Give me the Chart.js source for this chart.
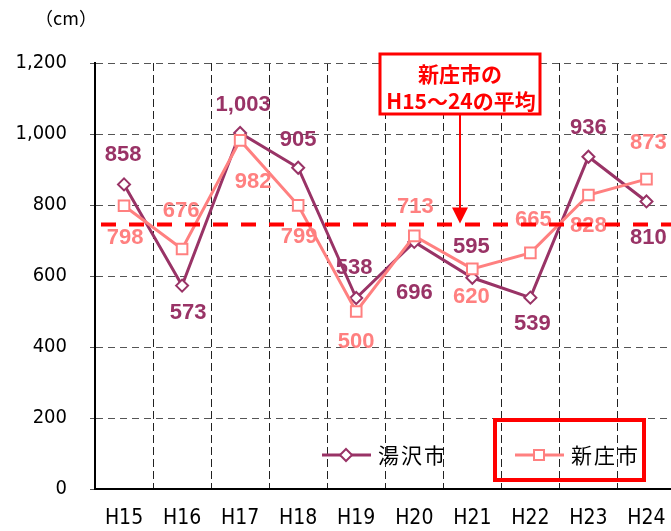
<!DOCTYPE html>
<html><head><meta charset="utf-8">
<script src="https://cdn.jsdelivr.net/npm/chart.js@4/dist/chart.umd.min.js"></script>
<style>html,body{margin:0;padding:0;background:#fff;overflow:hidden}#wrap{position:relative;width:685px;height:531px}</style>
</head><body><div id="wrap"><canvas id="c" width="685" height="531"></canvas></div>
<script>
const categories = ['H15','H16','H17','H18','H19','H20','H21','H22','H23','H24'];
const yuzawaValues = [858,573,1003,905,538,696,595,539,936,810];
const shinjoValues = [798,676,982,799,500,713,620,665,828,873];
const yTickValues = [0,200,400,600,800,1000,1200];
const seriesNames = ['湯沢市','新庄市'];
const unitLabel = '（cm）';
const noteLines = ['新庄市の','H15～24の平均'];
const shinjoAverage = shinjoValues.reduce((a,b)=>a+b,0)/shinjoValues.length;

// label placement offsets (px) relative to each point
const yuzawaLabelOffsets = [[-1,-29],[6,27],[3,-28],[0,-28],[-2,-30],[0,51],[-1,-31],[2,26],[0,-29],[2,36]];
const shinjoLabelOffsets = [[1,32],[-1,-38],[13,42],[1,32],[0,30],[1,-29],[-1,28],[3,-33],[0,31],[2,-36]];

const C_YU = '#993366', C_SH = '#FF8080', C_RED = '#FF0000';
const CJK = '"Noto Sans CJK JP", sans-serif';
const NARROW = '"Liberation Sans Narrow", "DejaVu Sans Condensed", "Liberation Sans", sans-serif';

function fmt(v){ return v.toLocaleString('en-US'); }

const overlay = {
  id:'overlay',
  afterDatasetsDraw(chart){
    const ctx = chart.ctx;
    const sets = [[0, yuzawaValues, yuzawaLabelOffsets, C_YU],[1, shinjoValues, shinjoLabelOffsets, C_SH]];
    ctx.save();
    ctx.font = 'bold 22px "Liberation Sans", Arial, sans-serif';
    ctx.textAlign = 'center';
    ctx.textBaseline = 'middle';
    for (const [di, vals, offs, col] of sets) {
      const meta = chart.getDatasetMeta(di);
      meta.data.forEach((pt, i) => {
        ctx.fillStyle = col;
        ctx.fillText(fmt(vals[i]), pt.x + offs[i][0], pt.y + offs[i][1]);
      });
    }
    ctx.restore();
  },
  afterDraw(chart){
    const ctx = chart.ctx;
    const ca = chart.chartArea;
    const ys = chart.scales.y;
    const avgY = ys.getPixelForValue(shinjoAverage);
    ctx.save();
    // average line
    ctx.strokeStyle = C_RED; ctx.lineWidth = 4; ctx.setLineDash([15,13]);
    ctx.beginPath(); ctx.moveTo(ca.left + 6, avgY); ctx.lineTo(ca.right, avgY); ctx.stroke();
    ctx.setLineDash([]);
    // arrow
    const ax = 460;
    ctx.lineWidth = 2;
    ctx.beginPath(); ctx.moveTo(ax, 114); ctx.lineTo(ax, avgY - 16); ctx.stroke();
    ctx.fillStyle = C_RED;
    ctx.beginPath(); ctx.moveTo(ax - 8, avgY - 17); ctx.lineTo(ax + 8, avgY - 17); ctx.lineTo(ax, avgY - 1); ctx.closePath(); ctx.fill();
    // annotation box
    ctx.fillStyle = '#fff';
    ctx.fillRect(380, 54, 160, 60);
    ctx.lineWidth = 3; ctx.strokeStyle = C_RED;
    ctx.strokeRect(380, 54, 160, 60);
    ctx.fillStyle = C_RED;
    ctx.font = 'bold 21px ' + CJK;
    ctx.textAlign = 'center'; ctx.textBaseline = 'middle';
    ctx.fillText(noteLines[0], 460, 74);
    ctx.fillText(noteLines[1], 461, 101);
    // legend
    const items = [[322, C_YU, 'diamond', seriesNames[0]], [515, C_SH, 'square', seriesNames[1]]];
    for (const [lx, col, shape, name] of items) {
      const ly = 455;
      ctx.strokeStyle = col; ctx.lineWidth = 3;
      ctx.beginPath(); ctx.moveTo(lx, ly); ctx.lineTo(lx + 49, ly); ctx.stroke();
      const mx = lx + 24;
      ctx.fillStyle = '#fff'; ctx.lineWidth = 2;
      ctx.beginPath();
      if (shape === 'diamond') { ctx.moveTo(mx, ly - 6); ctx.lineTo(mx + 6, ly); ctx.lineTo(mx, ly + 6); ctx.lineTo(mx - 6, ly); ctx.closePath(); }
      else { ctx.rect(mx - 5, ly - 5, 10, 10); }
      ctx.fill(); ctx.stroke();
      ctx.fillStyle = '#000';
      ctx.font = '21px ' + CJK;
      ctx.textAlign = 'left'; ctx.textBaseline = 'middle';
      try { ctx.letterSpacing = '2px'; } catch(e) {}
      ctx.fillText(name, lx + 56, ly);
      try { ctx.letterSpacing = '0px'; } catch(e) {}
    }
    ctx.strokeStyle = C_RED; ctx.lineWidth = 4;
    ctx.strokeRect(495, 420, 149, 60);
    // unit label
    ctx.fillStyle = '#000'; ctx.font = '18px ' + CJK;
    ctx.textAlign = 'center'; ctx.textBaseline = 'middle';
    ctx.fillText(unitLabel, 66, 18);
    ctx.restore();
  }
};

new Chart(document.getElementById('c'), {
  type: 'line',
  data: {
    labels: categories,
    datasets: [
      { label: seriesNames[0], data: yuzawaValues, borderColor: C_YU, backgroundColor: '#fff', borderWidth: 3,
        pointStyle: 'rectRot', pointRadius: 6, pointBorderWidth: 2, pointBackgroundColor: '#fff', pointBorderColor: C_YU, order: 2, tension: 0 },
      { label: seriesNames[1], data: shinjoValues, borderColor: C_SH, backgroundColor: '#fff', borderWidth: 3,
        pointStyle: 'rect', pointRadius: 7.5, pointBorderWidth: 2, pointBackgroundColor: '#fff', pointBorderColor: C_SH, order: 1, tension: 0 }
    ]
  },
  options: {
    responsive: false, animation: false,
    layout: { padding: { top: 63, left: 0, right: 0, bottom: 0 } },
    plugins: { legend: { display: false }, tooltip: { enabled: false } },
    scales: {
      x: {
        type: 'category', offset: true,
        grid: { offset: true, color: '#222', lineWidth: 1, drawTicks: false },
        border: { display: true, color: '#000', width: 2, dash: [8,4] },
        ticks: { color: '#000', font: { family: NARROW, size: 21 }, padding: 17, maxRotation: 0, autoSkip: false },
        afterFit(s){ s.height = 42; }
      },
      y: {
        min: 0, max: 1200,
        afterBuildTicks(s){ s.ticks = yTickValues.map(v => ({ value: v })); },
        grid: { color: '#555', lineWidth: 1, tickLength: 5, drawTicks: true },
        border: { display: true, color: '#000', width: 2, dash: [7,5] },
        ticks: { color: '#000', font: { family: NARROW, size: 20 }, padding: 23, callback: v => fmt(v) },
        afterFit(s){ s.width = 95; }
      }
    }
  },
  plugins: [overlay]
});
</script></body></html>
